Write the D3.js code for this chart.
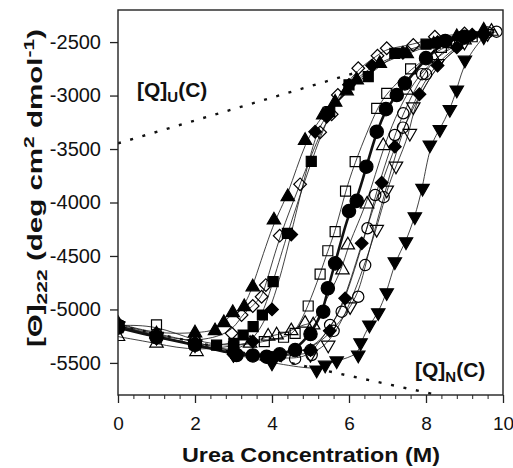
<!DOCTYPE html>
<html><head><meta charset="utf-8">
<script src="https://cdn.jsdelivr.net/npm/d3@7"></script>
<style>body{margin:0;background:#fff}svg{display:block}text{font-family:Arial,"Liberation Sans",sans-serif}</style>
</head><body><svg id="c" width="513" height="468"></svg>
<script>
// ---- data (urea concentration M, [Θ]222) ----
const xTicks = [0, 2, 4, 6, 8, 10];
const yTicks = [-2500, -3000, -3500, -4000, -4500, -5000, -5500];

const triUpFilled = [[0,-5130],[1,-5230],[2,-5220],[2.52,-5200],[2.75,-5124],[2.98,-5030],[3.28,-4975],[3.5,-4790],[4.05,-4165],[4.41,-3946],[4.86,-3420],[5.33,-3182],[5.64,-3063],[5.94,-2957],[6.2,-2855],[6.8,-2700],[7.5,-2610],[8.2,-2520],[8.8,-2450],[9.5,-2390]];
const diamondOpen = [[0,-5150],[1,-5240],[2,-5310],[2.95,-5223],[3.21,-5052],[3.5,-4968],[3.73,-4881],[3.84,-4772],[4.2,-4310],[4.73,-3830],[5.25,-3344],[5.55,-3175],[5.71,-2995],[6.24,-2745],[6.74,-2627],[6.98,-2558],[7.67,-2527],[8.23,-2450],[9.0,-2420]];
const squareFilled = [[0,-5170],[1,-5260],[2,-5330],[2.56,-5333],[3.01,-5317],[3.25,-5239],[3.51,-5161],[3.75,-5052],[4.03,-4740],[4.4,-4288],[5.02,-3615],[5.5,-3150],[6.0,-2900],[6.5,-2823],[7.19,-2605],[8.0,-2520],[9.0,-2450]];
const diamondFilledA = [[0,-5160],[1,-5270],[2,-5320],[3,-5400],[3.5,-5300],[4.0,-5000],[4.5,-4300],[5.12,-3338],[5.42,-3198],[6.0,-2900],[6.6,-2720],[7.4,-2600],[8.3,-2500],[9.2,-2430]];
const squareOpen = [[0,-5150],[1,-5145],[2,-5300],[3,-5350],[3.8,-5300],[4.3,-5260],[4.6,-5223],[4.94,-4968],[5.25,-4669],[5.45,-4451],[5.64,-4273],[5.91,-3893],[6.16,-3618],[6.72,-3119],[6.98,-2979],[7.6,-2750],[8.4,-2550],[9.2,-2450]];
const circleFilled = [[0,-5170],[1,-5260],[2,-5330],[3.08,-5426],[3.5,-5430],[3.86,-5442],[4.2,-5420],[4.6,-5380],[5.0,-5230],[5.33,-5021],[5.45,-4802],[5.64,-4569],[6.0,-4080],[6.2,-3985],[6.45,-3665],[6.72,-3338],[6.96,-3127],[7.24,-2995],[7.45,-2886],[8.0,-2650],[8.5,-2490],[9.0,-2450]];
const triUpOpen = [[0,-5254],[1,-5317],[2.04,-5395],[3.43,-5317],[3.9,-5250],[4.12,-5239],[4.5,-5200],[4.86,-5130],[5.07,-5145],[5.83,-4631],[5.97,-4397],[6.47,-4015],[6.89,-3470],[7.5,-2950],[8.2,-2650],[9.0,-2480],[9.7,-2400]];
const circleOpenA = [[0,-5150],[1,-5250],[2,-5330],[3,-5400],[4,-5450],[4.6,-5460],[5.03,-5426],[5.51,-5145],[5.81,-5021],[6.48,-4241],[6.68,-3930],[7.19,-3369],[7.41,-3166],[7.9,-2800],[8.6,-2500],[9.83,-2403]];
const circleOpenB = [[0,-5140],[1,-5230],[2,-5300],[3,-5400],[4,-5450],[5.0,-5380],[5.6,-5200],[6.24,-4881],[6.42,-4585],[6.9,-3950],[7.4,-3300],[8.0,-2800],[8.8,-2520],[9.6,-2410]];
const triDownOpen = [[0,-5160],[1,-5250],[2,-5320],[3,-5420],[4,-5440],[5.0,-5420],[5.46,-5333],[6.03,-4974],[6.72,-4251],[6.98,-3883],[7.22,-3659],[7.58,-3353],[7.67,-3104],[8.3,-2700],[9.0,-2500],[9.6,-2420]];
const diamondFilledB = [[0,-5170],[1,-5260],[2,-5330],[3,-5420],[4,-5460],[5,-5380],[5.5,-5200],[5.9,-4896],[6.33,-4382],[6.85,-3815],[7.19,-3478],[7.83,-2988],[8.3,-2720],[8.8,-2550],[9.5,-2430]];
const triDownFilled = [[0,-5150],[1,-5260],[2,-5330],[3,-5420],[4,-5500],[5.16,-5566],[5.38,-5520],[5.68,-5480],[6.24,-5426],[6.3,-5311],[6.53,-5145],[6.76,-5030],[6.98,-4843],[7.19,-4554],[7.48,-4367],[7.71,-4133],[7.91,-3867],[8.1,-3462],[8.36,-3318],[8.62,-3129],[8.8,-2948],[9.01,-2668],[9.5,-2450]];

const baselineU = [[0,-3447],[6.1,-2794]];
const baselineN = [[0,-5150],[8.3,-5800]];

// ---- drawing ----
const svg = d3.select("#c");
const L = 118, R = 503, T = 10, B = 395;
const x = d3.scaleLinear().domain([0, 10]).range([L, R]);
const y = d3.scaleLinear().domain([-5800, -2200]).range([B, T]);

const series = [
  {d: triUpFilled, s: "triUp", fill: true},
  {d: diamondOpen, s: "diamond", fill: false},
  {d: squareFilled, s: "square", fill: true},
  {d: diamondFilledA, s: "diamond", fill: true},
  {d: squareOpen, s: "square", fill: false},
  {d: triUpOpen, s: "triUp", fill: false},
  {d: circleOpenA, s: "circle", fill: false},
  {d: circleOpenB, s: "circle", fill: false},
  {d: triDownOpen, s: "triDown", fill: false},
  {d: diamondFilledB, s: "diamond", fill: true},
  {d: triDownFilled, s: "triDown", fill: true},
  {d: circleFilled, s: "circle", fill: true, thick: true}
];

svg.append("clipPath").attr("id","clip").append("rect").attr("x",L).attr("y",T).attr("width",R-L).attr("height",B-T);
const plot = svg.append("g").attr("clip-path","url(#clip)");

// dotted baselines
const lin = d3.line().x(d=>x(d[0])).y(d=>y(d[1]));
[baselineU, baselineN].forEach(b=>{
  plot.append("path").attr("d", lin(b)).attr("fill","none").attr("stroke","#111")
    .attr("stroke-width",2.4).attr("stroke-dasharray","3,9.7");
});

// fit curves
const curve = d3.line().x(d=>x(d[0])).y(d=>y(d[1])).curve(d3.curveBasis);
series.forEach(sr=>{
  plot.append("path").attr("d", curve(sr.d)).attr("fill","none").attr("stroke","#111")
    .attr("stroke-width", sr.thick ? 2.6 : 0.8);
});

// symbols
const sizes = {triUp: 78, triDown: 78, square: 100, diamond: 80};
const rot = {triUp: 0, triDown: 180, square: 0, diamond: 45, circle: 0};
const types = {triUp: d3.symbolTriangle, triDown: d3.symbolTriangle, square: d3.symbolSquare, diamond: d3.symbolSquare, circle: d3.symbolCircle};
series.forEach(sr=>{
  const size = sr.s === "circle" ? (sr.fill ? 140 : 100) : sizes[sr.s];
  const gen = d3.symbol().type(types[sr.s]).size(size);
  plot.append("g").selectAll("path").data(sr.d).join("path")
    .attr("d", gen())
    .attr("transform", d=>`translate(${x(d[0])},${y(d[1])}) rotate(${rot[sr.s]})`)
    .attr("fill", sr.fill ? "#000" : "none")
    .attr("stroke", "#000").attr("stroke-width", 1.2);
});

// frame
svg.append("rect").attr("x",L).attr("y",T).attr("width",R-L).attr("height",B-T)
  .attr("fill","none").attr("stroke","#222").attr("stroke-width",1.4);

// axes
const xMinor = d3.range(0, 10.01, 0.4);
svg.append("g").attr("transform",`translate(0,${B})`)
  .call(d3.axisBottom(x).tickValues(xMinor).tickSize(4).tickFormat(""))
  .call(g=>{g.select(".domain").remove(); g.selectAll("line").attr("stroke","#222");});
svg.append("g").attr("transform",`translate(0,${B})`)
  .call(d3.axisBottom(x).tickValues(xTicks).tickSize(8).tickPadding(14).tickFormat(d=>String(d)))
  .call(g=>{g.select(".domain").remove(); g.selectAll("line").attr("stroke","#222").attr("stroke-width",1.3);
    g.selectAll("text").attr("font-size",19).attr("fill","#111").attr("font-family","Arial, Liberation Sans, sans-serif");});
svg.append("g").attr("transform",`translate(${L},0)`)
  .call(d3.axisLeft(y).tickValues(yTicks).tickSize(8).tickPadding(9).tickFormat(d=>String(d)))
  .call(g=>{g.select(".domain").remove(); g.selectAll("line").attr("stroke","#222").attr("stroke-width",1.3);
    g.selectAll("text").attr("font-size",20).attr("fill","#111").attr("font-family","Arial, Liberation Sans, sans-serif");});

// titles
svg.append("text").attr("x",311).attr("y",462).attr("text-anchor","middle")
  .attr("textLength",258).attr("lengthAdjust","spacingAndGlyphs")
  .attr("font-size",21).attr("font-weight","bold").attr("fill","#111").text("Urea Concentration (M)");

const yt = svg.append("text").attr("transform","translate(42,188) rotate(-90)").attr("text-anchor","middle")
  .attr("textLength",318).attr("lengthAdjust","spacingAndGlyphs")
  .attr("font-size",21).attr("font-weight","bold").attr("fill","#111");
yt.append("tspan").text("[Θ]");
yt.append("tspan").attr("font-size",15).attr("dy",5).text("222");
yt.append("tspan").attr("dy",-5).text(" (deg cm");
yt.append("tspan").attr("font-size",15).attr("dy",-8).text("2");
yt.append("tspan").attr("dy",8).text(" dmol");
yt.append("tspan").attr("font-size",15).attr("dy",-8).text("-1");
yt.append("tspan").attr("dy",8).text(")");

function qLabel(px, py, sub){
  const t = svg.append("text").attr("x",px).attr("y",py).attr("font-size",21).attr("font-weight","bold").attr("fill","#111");
  t.append("tspan").text("[Q]");
  t.append("tspan").attr("font-size",15).attr("dy",5).text(sub);
  t.append("tspan").attr("dy",-5).text("(C)");
}
qLabel(137, 97, "U");
qLabel(415, 377, "N");
</script></body></html>
